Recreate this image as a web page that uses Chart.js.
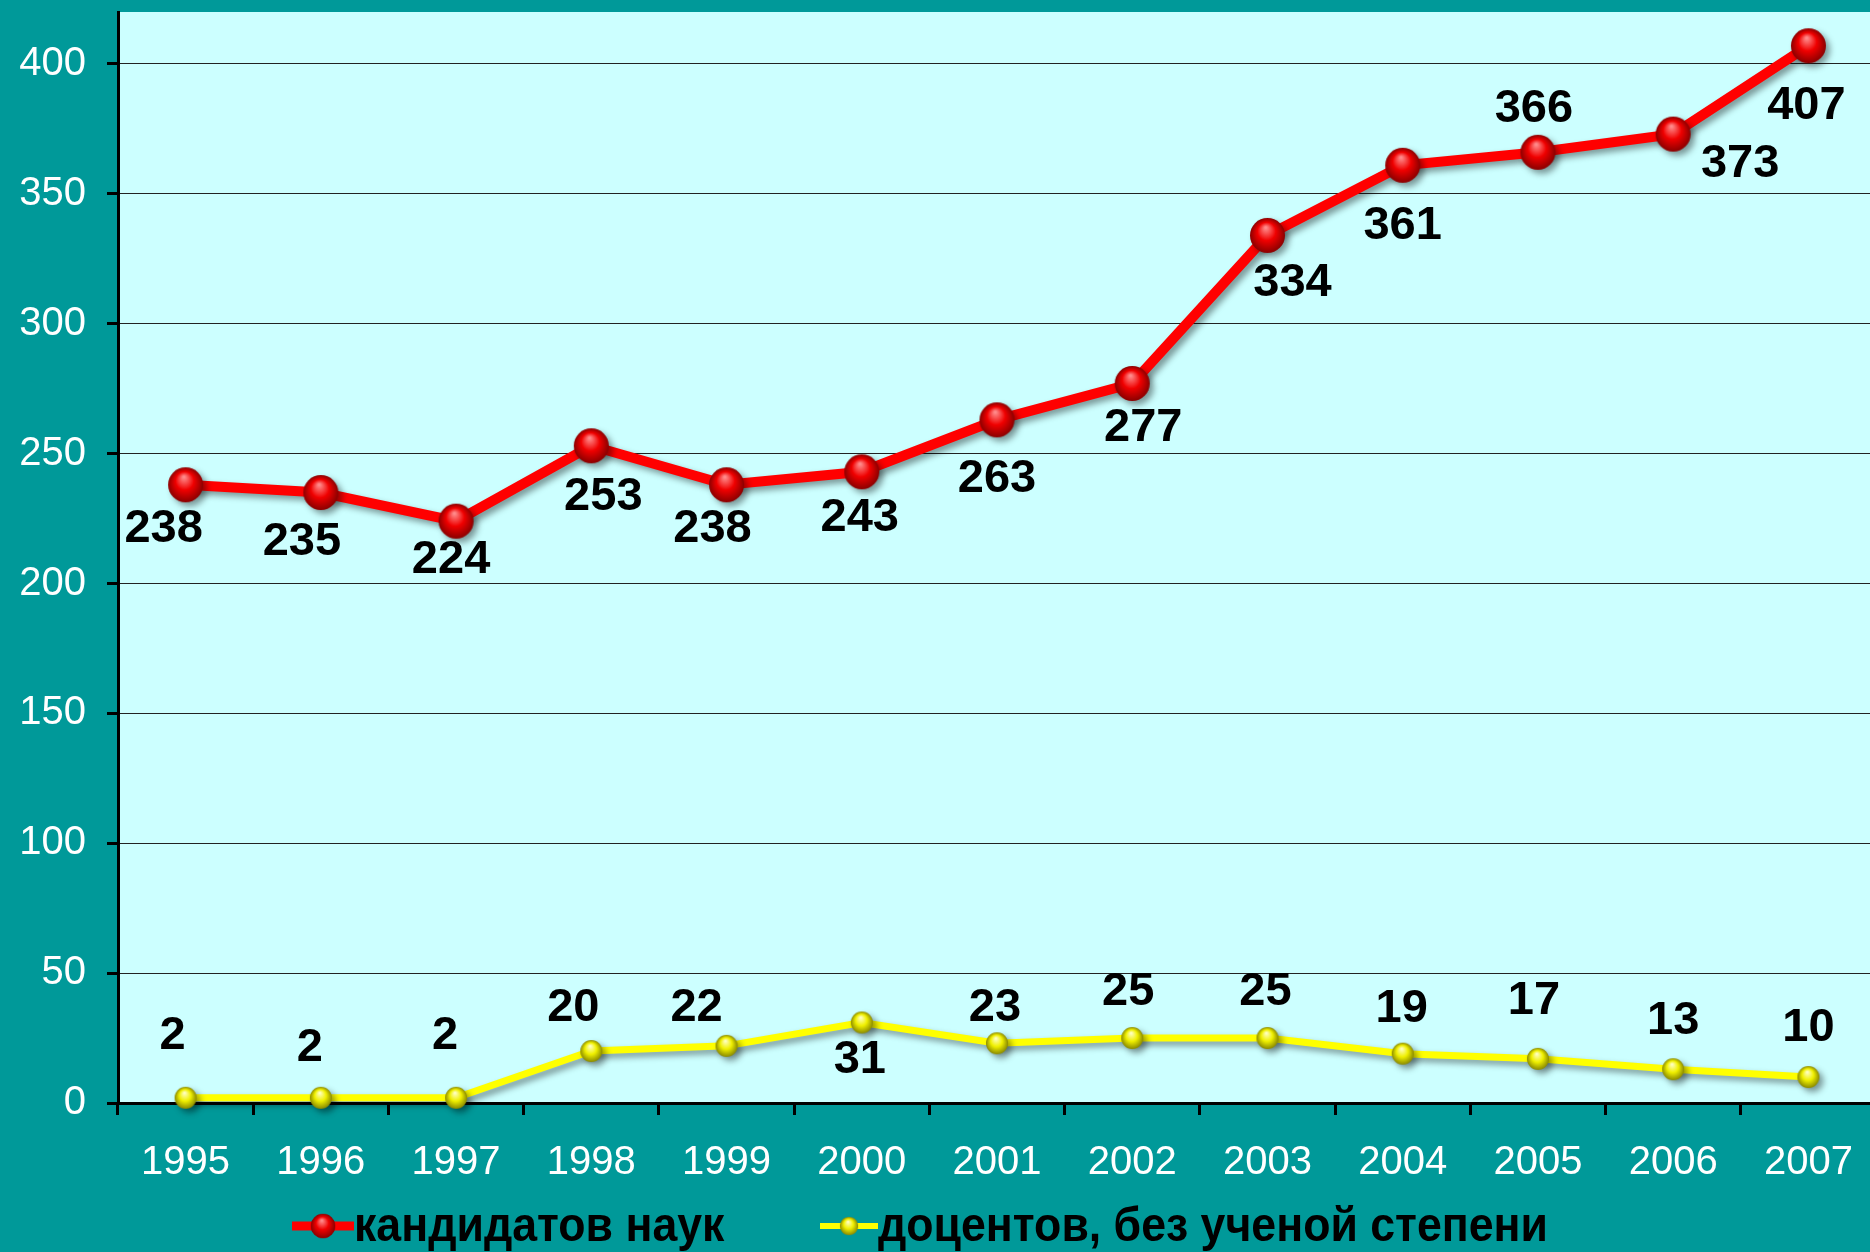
<!DOCTYPE html>
<html>
<head>
<meta charset="utf-8">
<script src="https://cdn.jsdelivr.net/npm/chart.js@4.4.0/dist/chart.umd.min.js"></script>
<style>
    body { margin: 0; background: #009999; overflow: hidden; }
    canvas { display: block; }
</style>
</head>
<body>
<canvas id="line_chart" width="1876" height="1252"></canvas>
<script>
// data
const Years = ["1995", "1996", "1997", "1998", "1999", "2000", "2001", "2002", "2003", "2004", "2005", "2006", "2007"];
const Candidates = [238, 235, 224, 253, 238, 243, 263, 277, 334, 361, 366, 373, 407];
const Docents = [2, 2, 2, 20, 22, 31, 23, 25, 25, 19, 17, 13, 10];
const Series_names = ["кандидатов наук", "доцентов, без ученой степени"];
const Y_ticks = [0, 50, 100, 150, 200, 250, 300, 350, 400];

// where each value label sits relative to its point (px)
const Candidates_label_offset = [[-22, 44], [-19, 49], [-5, 39], [12, 51], [-14, 44], [-2, 46], [0, 59],
                                 [11, 45], [25, 48], [0, 61], [-4, -43], [67, 30], [-2, 60]];
const Docents_label_offset = [[-13, -62], [-11, -50], [-11, -62], [-18, -43], [-30, -38], [-2, 38], [-2, -35],
                              [-4, -46], [-2, -46], [-1, -45], [-4, -58], [0, -48], [0, -49]];

const FONT = "'Liberation Sans', Arial, sans-serif";

// shaded ball used as point marker
function make_ball(radius, light, mid, dark) {
    const c = document.createElement("canvas");
    c.width = c.height = radius * 2 + 2;
    const ctx = c.getContext("2d");
    const cx = radius + 1, cy = radius + 1;
    const g = ctx.createRadialGradient(cx - radius * 0.1, cy - radius * 0.45, radius * 0.05, cx, cy, radius);
    g.addColorStop(0, light);
    g.addColorStop(0.5, mid);
    g.addColorStop(1, dark);
    ctx.fillStyle = g;
    ctx.beginPath();
    ctx.arc(cx, cy, radius, 0, Math.PI * 2);
    ctx.fill();
    return c;
}

const red_ball = make_ball(17.5, "#ff8a8a", "#f00000", "#8a0000");
const yellow_ball = make_ball(11, "#ffffc0", "#f0f000", "#8a8a00");

const background_plugin = {
    id: "background",
    beforeDraw(chart) {
        const ctx = chart.ctx, a = chart.chartArea;
        ctx.save();
        ctx.fillStyle = "#009999";
        ctx.fillRect(0, 0, chart.width, chart.height);
        ctx.fillStyle = "#ccffff";
        ctx.fillRect(a.left, a.top, a.right - a.left, a.bottom - a.top);
        ctx.restore();
    }
};

const shadow_plugin = {
    id: "shadow",
    beforeDatasetDraw(chart) {
        const ctx = chart.ctx;
        ctx.save();
        ctx.shadowColor = "rgba(0,0,0,0.4)";
        ctx.shadowBlur = 6;
        ctx.shadowOffsetX = 4;
        ctx.shadowOffsetY = 4;
    },
    afterDatasetDraw(chart) {
        chart.ctx.restore();
    }
};

const value_label_plugin = {
    id: "value_labels",
    afterDatasetsDraw(chart) {
        const ctx = chart.ctx;
        ctx.save();
        ctx.font = "bold 47px " + FONT;
        ctx.fillStyle = "#000";
        ctx.textAlign = "center";
        ctx.textBaseline = "middle";
        chart.data.datasets.forEach((ds, i) => {
            chart.getDatasetMeta(i).data.forEach((pt, j) => {
                const off = ds.label_offset[j];
                ctx.fillText(ds.data[j], pt.x + off[0], pt.y + off[1]);
            });
        });
        ctx.restore();
    }
};

// legend: line + ball, then condensed bold text
const legend_layout = [{ x: 292, w: 62, ball: 13 }, { x: 820, w: 58, ball: 10 }];
const legend_plugin = {
    id: "bottom_legend",
    afterDraw(chart) {
        const ctx = chart.ctx;
        const y = chart.chartArea.bottom + 123;
        ctx.save();
        chart.data.datasets.forEach((ds, i) => {
            const L = legend_layout[i];
            ctx.strokeStyle = ds.borderColor;
            ctx.lineWidth = i === 0 ? 9 : 6;
            ctx.beginPath();
            ctx.moveTo(L.x, y);
            ctx.lineTo(L.x + L.w, y);
            ctx.stroke();
            const img = ds.pointStyle;
            const cx = L.x + L.w / 2;
            ctx.drawImage(img, cx - L.ball, y - L.ball, L.ball * 2, L.ball * 2);
            ctx.save();
            ctx.translate(L.x + L.w, y + 15);
            ctx.scale(0.93, 1);
            ctx.font = "bold 48px " + FONT;
            ctx.fillStyle = "#000";
            ctx.textAlign = "left";
            ctx.textBaseline = "alphabetic";
            ctx.fillText(ds.label, 0, 0);
            ctx.restore();
        });
        ctx.restore();
    }
};

const config = {
    type: "line",
    data: {
        labels: Years,
        datasets: [
            {
                label: Series_names[0],
                data: Candidates,
                borderColor: "#ff0000",
                borderWidth: 10,
                pointStyle: red_ball,
                pointRadius: 17,
                clip: false,
                label_offset: Candidates_label_offset
            },
            {
                label: Series_names[1],
                data: Docents,
                borderColor: "#ffff00",
                borderWidth: 7,
                pointStyle: yellow_ball,
                pointRadius: 11,
                clip: false,
                label_offset: Docents_label_offset
            }
        ]
    },
    options: {
        responsive: false,
        animation: false,
        events: [],
        layout: { autoPadding: false, padding: { top: 12, bottom: 59, left: 0, right: 0 } },
        plugins: {
            legend: { display: false },
            tooltip: { enabled: false },
            title: { display: false }
        },
        scales: {
            x: {
                offset: true,
                afterFit: (s) => { s.height = 90; s.paddingLeft = 0; s.paddingRight = 0; },
                ticks: { color: "#fff", font: { size: 40, family: FONT }, padding: 24, maxRotation: 0, autoSkip: false },
                grid: { offset: true, drawOnChartArea: false, tickLength: 12, tickColor: "#000", tickWidth: 3 },
                border: { color: "#000", width: 3 }
            },
            y: {
                min: 0,
                max: 420,
                afterBuildTicks: (s) => { s.ticks = Y_ticks.map(v => ({ value: v })); },
                afterFit: (s) => { s.width = 118; s.paddingTop = 0; s.paddingBottom = 0; },
                ticks: { color: "#fff", font: { size: 40, family: FONT }, padding: 21 },
                grid: { color: "#222", lineWidth: 1, tickLength: 11, tickColor: "#000", tickWidth: 3 },
                border: { color: "#000", width: 3 }
            }
        }
    },
    plugins: [background_plugin, shadow_plugin, value_label_plugin, legend_plugin]
};

var canvas = document.getElementById("line_chart");
let my_line_chart = new Chart(canvas, config);
</script>
</body>
</html>
